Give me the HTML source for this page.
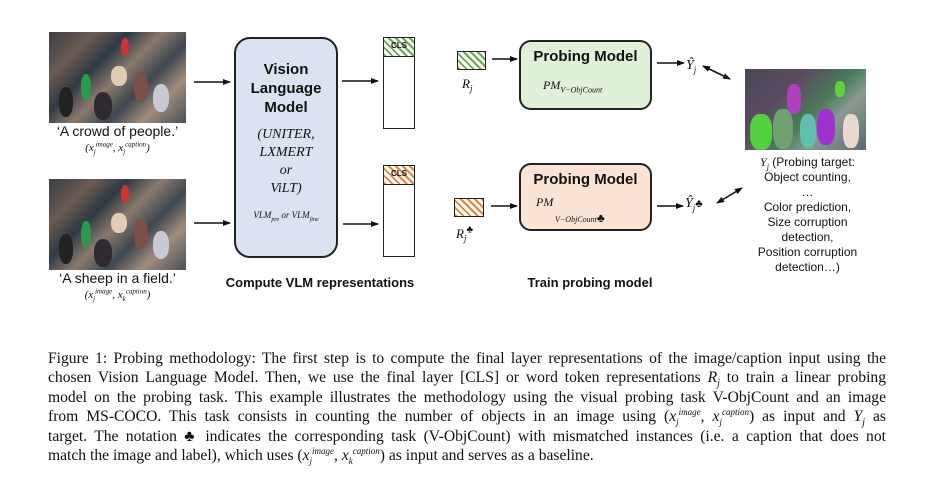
<!DOCTYPE html>
<html><head><meta charset="utf-8"><style>
*{margin:0;padding:0;box-sizing:border-box}
body{width:932px;height:480px;background:#fff;position:relative;overflow:hidden;font-family:"Liberation Sans",sans-serif;color:#111}
sub,sup{line-height:0}
.a{position:absolute}
.photo{position:absolute;background:linear-gradient(135deg,#3a3d45 0%,#6b5a52 20%,#2f3a44 35%,#8a7a6e 50%,#3e4650 65%,#a08c7c 80%,#4a4f58 100%);overflow:hidden}
.photo i{position:absolute;border-radius:45%}
.c{text-align:center;white-space:nowrap}
.serif{font-family:"Liberation Serif",serif;font-style:italic}
.hatchg{background:repeating-linear-gradient(45deg,#6aa84f 0 2px,#fff 2px 5px)}
.hatcho{background:repeating-linear-gradient(45deg,#e8833a 0 2px,#fff 2px 5px)}
.cap{position:absolute;left:48px;width:838px;font-family:"Liberation Serif",serif;font-size:15.6px;text-align:justify;text-align-last:justify;white-space:nowrap;line-height:19px;height:19px}
</style></head><body>

<div class="photo" style="left:49px;top:32px;width:137px;height:91px">
<i style="left:62px;top:34px;width:16px;height:20px;background:#e0ccb0"></i>
<i style="left:32px;top:42px;width:10px;height:26px;background:#2a9a4a"></i>
<i style="left:72px;top:6px;width:8px;height:18px;background:#c33"></i>
<i style="left:104px;top:52px;width:16px;height:28px;background:#c9c9d6"></i>
<i style="left:10px;top:55px;width:14px;height:30px;background:#222"></i>
<i style="left:45px;top:60px;width:18px;height:28px;background:#302a30"></i>
<i style="left:85px;top:40px;width:14px;height:30px;background:#7a5048"></i>
</div>
<div class="a c" style="left:30px;top:123px;width:175px;font-size:14px">‘A crowd of people.’</div>
<div class="a c serif" style="left:30px;top:142px;width:175px;font-size:11px">(x<sub style="font-size:7px">j</sub><sup style="font-size:7px">image</sup>, x<sub style="font-size:7px">j</sub><sup style="font-size:7px">caption</sup>)</div>

<div class="photo" style="left:49px;top:179px;width:137px;height:91px">
<i style="left:62px;top:34px;width:16px;height:20px;background:#e0ccb0"></i>
<i style="left:32px;top:42px;width:10px;height:26px;background:#2a9a4a"></i>
<i style="left:72px;top:6px;width:8px;height:18px;background:#c33"></i>
<i style="left:104px;top:52px;width:16px;height:28px;background:#c9c9d6"></i>
<i style="left:10px;top:55px;width:14px;height:30px;background:#222"></i>
<i style="left:45px;top:60px;width:18px;height:28px;background:#302a30"></i>
<i style="left:85px;top:40px;width:14px;height:30px;background:#7a5048"></i>
</div>
<div class="a c" style="left:30px;top:270px;width:175px;font-size:14px">‘A sheep in a field.’</div>
<div class="a c serif" style="left:30px;top:289px;width:175px;font-size:11px">(x<sub style="font-size:7px">j</sub><sup style="font-size:7px">image</sup>, x<sub style="font-size:7px">k</sub><sup style="font-size:7px">caption</sup>)</div>

<div class="a" style="left:234px;top:37px;width:104px;height:221px;background:#dbe3f2;border:2px solid #222;border-radius:16px"></div>
<div class="a c" style="left:234px;top:60px;width:104px;font-size:15px;font-weight:bold;line-height:19px">Vision<br>Language<br>Model</div>
<div class="a c serif" style="left:234px;top:126px;width:104px;font-size:14px;line-height:18px">(UNITER,<br>LXMERT<br>or<br>ViLT)</div>
<div class="a c serif" style="left:234px;top:210px;width:104px;font-size:9px">VLM<sub style="font-size:6px">pre</sub> or VLM<sub style="font-size:6px">fine</sub></div>

<div class="a" style="left:383px;top:37px;width:32px;height:92px;border:1.5px solid #222"></div>
<div class="a hatchg" style="left:383px;top:37px;width:32px;height:20px;border:1.5px solid #222"></div>
<div class="a c" style="left:383px;top:41px;width:32px;font-size:8px;font-weight:bold">CLS</div>
<div class="a" style="left:383px;top:165px;width:32px;height:92px;border:1.5px solid #222"></div>
<div class="a hatcho" style="left:383px;top:165px;width:32px;height:20px;border:1.5px solid #222"></div>
<div class="a c" style="left:383px;top:169px;width:32px;font-size:8px;font-weight:bold">CLS</div>

<div class="a hatchg" style="left:457px;top:51px;width:29px;height:19px;border:1.5px solid #222"></div>
<div class="a serif" style="left:462px;top:76px;font-size:13px">R<sub style="font-size:9px">j</sub></div>
<div class="a hatcho" style="left:454px;top:198px;width:30px;height:19px;border:1.5px solid #222"></div>
<div class="a serif" style="left:456px;top:226px;font-size:13px">R<sub style="font-size:9px">j</sub><sup style="font-size:10px;font-style:normal">♣</sup></div>

<div class="a" style="left:519px;top:40px;width:133px;height:70px;background:#e1f0d8;border:2px solid #222;border-radius:12px"></div>
<div class="a c" style="left:519px;top:48px;width:133px;font-size:15px;font-weight:bold">Probing Model</div>
<div class="a serif" style="left:543px;top:78px;font-size:12px">PM<sub style="font-size:8px">V−ObjCount</sub></div>
<div class="a" style="left:519px;top:163px;width:133px;height:68px;background:#fbe4d6;border:2px solid #222;border-radius:12px"></div>
<div class="a c" style="left:519px;top:171px;width:133px;font-size:15px;font-weight:bold">Probing Model</div>
<div class="a serif" style="left:536px;top:195px;font-size:12px">PM</div>
<div class="a serif" style="left:555px;top:211px;font-size:8px">V−ObjCount<span style="font-style:normal;font-size:12px">♣</span></div>

<div class="a serif" style="left:686px;top:58px;font-size:14px">Ŷ<sub style="font-size:9px">j</sub></div>
<div class="a serif" style="left:685px;top:196px;font-size:14px">Ŷ<sub style="font-size:9px">j</sub><span style="font-style:normal;font-size:11px">♣</span></div>

<div class="a" style="left:745px;top:69px;width:121px;height:81px;overflow:hidden;background:linear-gradient(135deg,#4a4858,#5a4a60 30%,#4a7a5a 55%,#8a9a90 70%,#5a6a70)">
<i class="a" style="left:5px;top:45px;width:22px;height:36px;background:#52d040;border-radius:40%"></i>
<i class="a" style="left:28px;top:40px;width:20px;height:40px;background:#70a070;border-radius:40%"></i>
<i class="a" style="left:42px;top:15px;width:14px;height:30px;background:#b040c0;border-radius:40%"></i>
<i class="a" style="left:55px;top:45px;width:16px;height:34px;background:#60c0b0;border-radius:40%"></i>
<i class="a" style="left:72px;top:40px;width:18px;height:36px;background:#a030d0;border-radius:40%"></i>
<i class="a" style="left:98px;top:45px;width:16px;height:34px;background:#e8d8d0;border-radius:40%"></i>
<i class="a" style="left:90px;top:12px;width:10px;height:16px;background:#60d040;border-radius:40%"></i>
</div>
<div class="a c" style="left:735px;top:155px;width:145px;font-size:12px;line-height:15px"><span class="serif">Y<sub style="font-size:8px">j</sub></span> (Probing target:<br>Object counting,<br>…<br>Color prediction,<br>Size corruption<br>detection,<br>Position corruption<br>detection…)</div>

<div class="a c" style="left:200px;top:275px;width:240px;font-size:13px;font-weight:bold">Compute VLM representations</div>
<div class="a c" style="left:490px;top:275px;width:200px;font-size:13px;font-weight:bold">Train probing model</div>

<svg class="a" style="left:0;top:0" width="932" height="480">
<defs><marker id="m" markerWidth="8" markerHeight="8" refX="7" refY="4" orient="auto" markerUnits="userSpaceOnUse"><path d="M0,1 L8,4 L0,7z" fill="#111"/></marker>
<marker id="s" markerWidth="8" markerHeight="8" refX="1" refY="4" orient="auto" markerUnits="userSpaceOnUse"><path d="M8,1 L0,4 L8,7z" fill="#111"/></marker></defs>
<g stroke="#111" stroke-width="1.6" fill="none">
<line x1="194" y1="82" x2="230" y2="82" marker-end="url(#m)"/>
<line x1="194" y1="223" x2="230" y2="223" marker-end="url(#m)"/>
<line x1="342" y1="81" x2="378" y2="81" marker-end="url(#m)"/>
<line x1="343" y1="224" x2="378" y2="224" marker-end="url(#m)"/>
<line x1="492" y1="59" x2="517" y2="59" marker-end="url(#m)"/>
<line x1="491" y1="206" x2="517" y2="206" marker-end="url(#m)"/>
<line x1="657" y1="63" x2="684" y2="63" marker-end="url(#m)"/>
<line x1="657" y1="206" x2="683" y2="206" marker-end="url(#m)"/>
<line x1="703" y1="66" x2="730" y2="79" marker-start="url(#s)" marker-end="url(#m)"/>
<line x1="717" y1="203" x2="742" y2="188" marker-start="url(#s)" marker-end="url(#m)"/>
</g></svg>

<div class="cap" style="top:349px">Figure 1: Probing methodology: The first step is to compute the final layer representations of the image/caption input using the</div>
<div class="cap" style="top:368px">chosen Vision Language Model. Then, we use the final layer [CLS] or word token representations <i>R<sub style="font-size:10px">j</sub></i> to train a linear probing</div>
<div class="cap" style="top:388px">model on the probing task. This example illustrates the methodology using the visual probing task V-ObjCount and an image</div>
<div class="cap" style="top:407px">from MS-COCO. This task consists in counting the number of objects in an image using (<i>x<sub style="font-size:9px">j</sub><sup style="font-size:9px">image</sup></i>, <i>x<sub style="font-size:9px">j</sub><sup style="font-size:9px">caption</sup></i>) as input and <i>Y<sub style="font-size:10px">j</sub></i> as</div>
<div class="cap" style="top:427px">target. The notation ♣ indicates the corresponding task (V-ObjCount) with mismatched instances (i.e. a caption that does not</div>
<div class="cap" style="top:446px;text-align-last:left;width:auto">match the image and label), which uses (<i>x<sub style="font-size:9px">j</sub><sup style="font-size:9px">image</sup></i>, <i>x<sub style="font-size:9px">k</sub><sup style="font-size:9px">caption</sup></i>) as input and serves as a baseline.</div>
</body></html>
